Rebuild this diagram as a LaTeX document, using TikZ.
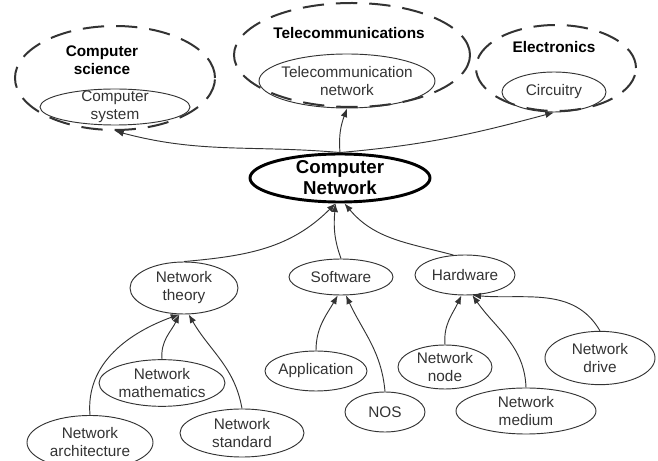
\documentclass[tikz,border=0pt]{standalone}
\usepackage{fontspec}
\setmainfont{Liberation Sans}
\usetikzlibrary{shapes.geometric}
\usetikzlibrary{arrows.meta}
\definecolor{inkgray}{HTML}{333333}
\tikzset{
  % plain oval around a topic
  topic/.style={draw=inkgray, ellipse, inner sep=0pt, line width=0.7pt},
  % dashed oval for a whole discipline
  field/.style={draw=inkgray, ellipse, inner sep=0pt, line width=1.5pt, dash pattern=on 16pt off 9pt},
  % the central topic
  core/.style={draw=black, ellipse, inner sep=0pt, line width=2.2pt},
  txt/.style={align=center, text=inkgray, font=\fontsize{11.5}{13.5}\selectfont},
  head/.style={align=center, font=\bfseries\fontsize{11.5}{13.5}\selectfont},
  link/.style={-{Latex[length=6.5pt, width=5pt]}, inkgray, line width=0.7pt},
}
\begin{document}
\begin{tikzpicture}[x=0.75pt, y=0.75pt]
  \useasboundingbox (0,0) rectangle (658,461);
  \clip (0,0) rectangle (658,461);

  % disciplines
  \node[field, minimum width=150pt, minimum height=78pt] (cs) at (115,383) {};
  \node[field, minimum width=177pt, minimum height=78pt] (tel) at (352,406) {};
  \node[field, minimum width=120pt, minimum height=64.5pt] (ele) at (556,393) {};
  \node[head] (cshead) at (102,401) {Computer\\science};
  \node[head] (telhead) at (349,428) {Telecommunications};
  \node[head] (elehead) at (554,414) {Electronics};

  \node[topic, minimum width=112.5pt, minimum height=27pt, label={[txt]center:Computer\\system}] (csys) at (115,354) {};
  \node[topic, minimum width=132pt, minimum height=40.5pt, label={[txt]center:Telecommunication\\network}] (tnet) at (347,380) {};
  \node[topic, minimum width=78pt, minimum height=30pt, label={[txt]center:Circuitry}] (circ) at (554,369) {};

  % centre
  \node[core, minimum width=135pt, minimum height=36pt, label={[head, font=\bfseries\fontsize{14}{15.75}\selectfont]center:Computer\\Network}] (cn) at (340,283) {};

  % second row
  \node[topic, minimum width=81pt, minimum height=39pt, label={[txt]center:Network\\theory}] (theory) at (184,173) {};
  \node[topic, minimum width=78pt, minimum height=27pt, label={[txt]center:Software}] (soft) at (341,184) {};
  \node[topic, minimum width=75pt, minimum height=30pt, label={[txt]center:Hardware}] (hard) at (465,186) {};

  % third row
  \node[topic, minimum width=94.5pt, minimum height=40.5pt, label={[txt]center:Network\\architecture}] (arch) at (90,18.5) {};
  \node[topic, minimum width=94.5pt, minimum height=35pt, label={[txt]center:Network\\mathematics}] (maths) at (162,78) {};
  \node[topic, minimum width=93pt, minimum height=36pt, label={[txt]center:Network\\standard}] (standard) at (242,28) {};
  \node[topic, minimum width=76.5pt, minimum height=30pt, label={[txt]center:Application}] (app) at (316,90) {};
  \node[topic, minimum width=60pt, minimum height=30pt, label={[txt]center:NOS}] (nos) at (385,49) {};
  \node[topic, minimum width=70.5pt, minimum height=33pt, label={[txt]center:Network\\node}] (netnode) at (445,94) {};
  \node[topic, minimum width=105pt, minimum height=34.5pt, label={[txt]center:Network\\medium}] (medium) at (526,50) {};
  \node[topic, minimum width=82.5pt, minimum height=40pt, label={[txt]center:Network\\drive}] (drive) at (600,103) {};

  % upwards
  \draw[link] (cn.north) to[out=175, in=-15] (cs.south);
  \draw[link] (cn.north) to[out=95, in=-110] (tnet.south);
  \draw[link] (cn.north) to[out=5, in=195] (circ.south);

  \draw[link] (theory.north) to[out=5, in=-135] (cn.-100);
  \draw[link] (soft.north) to[out=110, in=-95] (cn.-100);
  \draw[link] (hard.120) to[out=165, in=-50] (cn.-80);

  \draw[link] (arch.north) to[out=95, in=-160] (theory.-100);
  \draw[link] (maths.north) to[out=95, in=-115] (theory.-100);
  \draw[link] (standard.north) to[out=100, in=-60] (theory.-80);
  \draw[link] (app.north) to[out=90, in=-120] (soft.-100);
  \draw[link] (nos.north) to[out=95, in=-65] (soft.-75);
  \draw[link] (netnode.north) to[out=95, in=-115] (hard.-100);
  \draw[link] (medium.north) to[out=92, in=-55] (hard.-70);
  \draw[link] (drive.north) to[out=120, in=-5] (hard.-70);
\end{tikzpicture}
\end{document}
